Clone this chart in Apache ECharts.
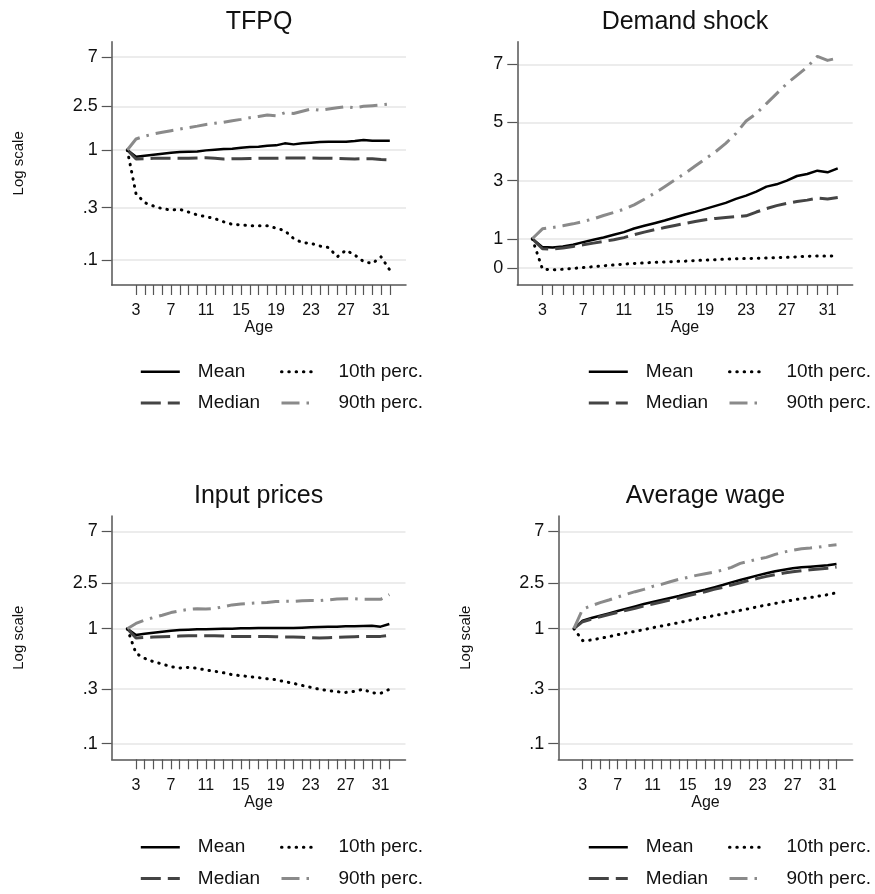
<!DOCTYPE html>
<html><head><meta charset="utf-8">
<script src="https://cdn.jsdelivr.net/npm/echarts@6/dist/echarts.min.js"></script>
<style>html,body{margin:0;padding:0;background:#fff}#c{width:875px;height:894px}</style>
</head><body><div id="c"></div>
<script>
// ---------- data ----------
const ages = [2,3,4,5,6,7,8,9,10,11,12,13,14,15,16,17,18,19,20,21,22,23,24,25,26,27,28,29,30,31,32];
const xTickValues = [3,4,5,6,7,8,9,10,11,12,13,14,15,16,17,18,19,20,21,22,23,24,25,26,27,28,29,30,31,32];
const xLabelValues = [3,7,11,15,19,23,27,31];
const logTickValues = [0.1,0.3,1,2.5,7];
const demandTickValues = [0,1,3,5,7];
const panelTitles = ['TFPQ','Demand shock','Input prices','Average wage'];
const seriesNames = ['Mean','Median','10th perc.','90th perc.'];
const yAxisTitle = 'Log scale';
const xAxisTitle = 'Age';

const tfpqMean   = [1.0,0.87,0.888,0.907,0.926,0.946,0.959,0.966,0.972,0.993,1.007,1.021,1.028,1.05,1.065,1.072,1.095,1.103,1.15,1.126,1.15,1.166,1.182,1.19,1.19,1.19,1.207,1.233,1.216,1.216,1.216];
const tfpqMedian = [1.0,0.83,0.835,0.84,0.842,0.842,0.842,0.84,0.845,0.85,0.84,0.83,0.835,0.835,0.838,0.84,0.84,0.84,0.845,0.845,0.845,0.845,0.843,0.843,0.84,0.835,0.83,0.835,0.835,0.82,0.815];
const tfpqP10    = [1.0,0.40,0.332,0.31,0.293,0.285,0.289,0.273,0.257,0.248,0.238,0.223,0.211,0.209,0.205,0.205,0.205,0.195,0.185,0.157,0.144,0.142,0.134,0.130,0.107,0.123,0.111,0.097,0.093,0.107,0.081];
const tfpqP90    = [1.0,1.26,1.34,1.40,1.45,1.50,1.55,1.60,1.65,1.71,1.75,1.79,1.85,1.90,1.97,2.02,2.08,2.05,2.18,2.15,2.25,2.36,2.30,2.36,2.42,2.48,2.42,2.50,2.53,2.57,2.62];

const demandMean   = [1.0,0.714,0.70,0.737,0.794,0.886,0.966,1.046,1.137,1.229,1.354,1.446,1.537,1.629,1.731,1.834,1.926,2.029,2.131,2.234,2.371,2.486,2.623,2.794,2.874,3.0,3.16,3.229,3.343,3.286,3.423];
const demandMedian = [1.0,0.657,0.646,0.68,0.737,0.794,0.851,0.909,0.966,1.04,1.14,1.23,1.31,1.385,1.46,1.525,1.595,1.655,1.70,1.735,1.76,1.79,1.92,2.04,2.14,2.22,2.28,2.33,2.40,2.37,2.42];
const demandP10    = [1.0,-0.04,-0.07,-0.05,-0.02,0.01,0.04,0.07,0.10,0.13,0.15,0.17,0.19,0.20,0.22,0.23,0.25,0.27,0.28,0.30,0.31,0.32,0.33,0.34,0.35,0.36,0.38,0.40,0.41,0.41,0.40];
const demandP90    = [1.0,1.343,1.389,1.446,1.514,1.594,1.686,1.80,1.903,2.017,2.166,2.36,2.566,2.794,3.023,3.251,3.503,3.75,3.994,4.28,4.623,5.05,5.309,5.651,5.994,6.337,6.623,6.909,7.274,7.137,7.217];

const inputMean   = [1.0,0.881,0.905,0.923,0.942,0.961,0.974,0.98,0.987,0.987,0.993,1.0,1.0,1.007,1.007,1.013,1.013,1.013,1.013,1.013,1.02,1.027,1.034,1.041,1.041,1.048,1.048,1.055,1.062,1.041,1.098];
const inputMedian = [1.0,0.83,0.841,0.846,0.852,0.857,0.863,0.869,0.869,0.869,0.869,0.863,0.857,0.857,0.857,0.857,0.857,0.852,0.846,0.846,0.841,0.835,0.83,0.835,0.841,0.846,0.852,0.857,0.857,0.857,0.875];
const inputP10    = [1.0,0.61,0.552,0.516,0.493,0.467,0.455,0.461,0.452,0.437,0.426,0.414,0.398,0.39,0.383,0.375,0.367,0.36,0.346,0.335,0.321,0.309,0.297,0.289,0.283,0.279,0.285,0.297,0.277,0.274,0.297];
const inputP90    = [1.0,1.11,1.19,1.25,1.31,1.38,1.43,1.47,1.49,1.48,1.50,1.55,1.61,1.64,1.66,1.68,1.69,1.72,1.73,1.73,1.75,1.76,1.75,1.78,1.81,1.82,1.82,1.80,1.80,1.80,1.98];

const wageMean   = [1.0,1.174,1.238,1.297,1.359,1.425,1.493,1.564,1.638,1.706,1.775,1.848,1.923,2.015,2.098,2.183,2.287,2.397,2.529,2.65,2.775,2.909,3.03,3.153,3.26,3.347,3.414,3.46,3.508,3.555,3.649];
const wageMedian = [1.0,1.15,1.21,1.27,1.33,1.387,1.443,1.502,1.574,1.638,1.706,1.775,1.848,1.935,2.015,2.098,2.198,2.287,2.397,2.512,2.632,2.74,2.851,2.95,3.05,3.13,3.19,3.26,3.31,3.36,3.44];
const wageP10    = [1.0,0.787,0.797,0.824,0.852,0.887,0.917,0.948,0.98,1.02,1.055,1.09,1.128,1.174,1.214,1.255,1.297,1.341,1.396,1.443,1.493,1.553,1.606,1.66,1.718,1.775,1.824,1.862,1.923,1.976,2.056];
const wageP90    = [1.0,1.48,1.585,1.683,1.775,1.885,1.99,2.098,2.198,2.334,2.43,2.562,2.685,2.793,2.909,3.006,3.11,3.236,3.414,3.698,3.852,4.036,4.17,4.43,4.64,4.80,4.96,5.03,5.13,5.27,5.375];

// ---------- layout / style ----------
const FONT = '"Liberation Sans", Arial, Helvetica, sans-serif';
const panels = [
  {values:[tfpqMean,tfpqMedian,tfpqP10,tfpqP90], log:true, ticks:logTickValues,
   grid:{left:111.7, top:41.7, width:294.3, height:243.3}, x:[0.22,33.85], y:[0.0593,9.66],
   titleX:259, titleY:22.5, legTop:362.2, leg1:139.3, leg2:280},
  {values:[demandMean,demandMedian,demandP10,demandP90], log:false, ticks:demandTickValues,
   grid:{left:517.3, top:41.7, width:335.4, height:243.3}, x:[0.53,33.47], y:[-0.59,7.78],
   titleX:685, titleY:22.5, legTop:362.2, leg1:587.3, leg2:728},
  {values:[inputMean,inputMedian,inputP10,inputP90], log:true, ticks:logTickValues,
   grid:{left:111.7, top:516, width:293.8, height:243.3}, x:[0.22,33.85], y:[0.0731,9.55],
   titleX:258.6, titleY:496, legTop:837.7, leg1:139.3, leg2:280},
  {values:[wageMean,wageMedian,wageP10,wageP90], log:true, ticks:logTickValues,
   grid:{left:558.3, top:516, width:294.4, height:243.3}, x:[0.22,33.85], y:[0.0731,9.55],
   titleX:705.5, titleY:496, legTop:837.7, leg1:587.3, leg2:728}
];
const lineStyles = [
  {color:'#000000', width:2.5, type:'solid'},
  {color:'#444444', width:3, type:[20,7]},
  {color:'#000000', width:3, type:[0.5,6.8], cap:'round'},
  {color:'#8a8a8a', width:3, type:[18,7,2.5,7]}
];
const axisColor = '#555555';
const textColor = '#111111';

function fmt(v){
  let s = String(+Number(v).toPrecision(4));
  if (s.indexOf('0.') === 0) s = s.slice(1);
  return s;
}

const option = {
  animation:false,
  backgroundColor:'#ffffff',
  textStyle:{fontFamily:FONT},
  grid:[], xAxis:[], yAxis:[], series:[], legend:[], graphic:[]
};

panels.forEach((p, i) => {
  option.grid.push(Object.assign({containLabel:false}, p.grid));
  option.xAxis.push({
    type:'value', gridIndex:i, min:p.x[0], max:p.x[1],
    name:xAxisTitle, nameLocation:'middle', nameGap:35,
    nameTextStyle:{fontSize:16, color:textColor, fontFamily:FONT},
    axisLine:{show:true, onZero:false, lineStyle:{color:axisColor, width:1.5}},
    axisTick:{show:true, inside:false, length:10, customValues:xTickValues, lineStyle:{color:axisColor, width:1.2}},
    axisLabel:{show:true, customValues:xLabelValues, fontSize:16, color:textColor, margin:18, fontFamily:FONT},
    splitLine:{show:false}
  });
  option.yAxis.push({
    type:p.log ? 'log' : 'value', logBase:10, gridIndex:i, min:p.y[0], max:p.y[1],
    name:p.log ? yAxisTitle : '', nameLocation:'middle', nameGap:85,
    nameTextStyle:{fontSize:15, color:textColor, fontFamily:FONT},
    axisLine:{show:true, onZero:false, lineStyle:{color:axisColor, width:1.5}},
    axisTick:{show:true, inside:false, length:10, customValues:p.ticks, lineStyle:{color:axisColor, width:1.2}},
    axisLabel:{show:true, customValues:p.ticks, fontSize:18, color:textColor, margin:14, formatter:fmt, fontFamily:FONT},
    splitLine:{show:true, lineStyle:{color:'#e6e6e6', width:1.5}}
  });
  p.values.forEach((vals, k) => {
    option.series.push({
      type:'line', name:seriesNames[k], xAxisIndex:i, yAxisIndex:i,
      data:ages.map((a, j) => [a, vals[j]]),
      showSymbol:false, symbol:'none', silent:true,
      lineStyle:Object.assign({join:'round'}, lineStyles[k]),
      itemStyle:{color:lineStyles[k].color},
      z:2+k
    });
  });
  const legendBase = {
    orient:'vertical', padding:0, itemGap:12.3, itemHeight:14, selectedMode:false,
    lineStyle:{width:'inherit'},
    itemStyle:{opacity:0, borderWidth:0},
    textStyle:{fontSize:19, color:textColor, fontFamily:FONT},
    top:p.legTop
  };
  option.legend.push(Object.assign({}, legendBase, {
    left:p.leg1, itemWidth:39, data:[seriesNames[0], seriesNames[1]],
    textStyle:Object.assign({}, legendBase.textStyle, {padding:[0,0,0,13]})
  }));
  option.legend.push(Object.assign({}, legendBase, {
    left:p.leg2, itemWidth:33, data:[seriesNames[2], seriesNames[3]],
    textStyle:Object.assign({}, legendBase.textStyle, {padding:[0,0,0,19]})
  }));
  option.graphic.push({
    type:'text', x:p.titleX, y:p.titleY, silent:true,
    style:{text:panelTitles[i], fill:textColor, font:'25px ' + FONT, textAlign:'center', textVerticalAlign:'middle'}
  });
});

const chart = echarts.init(document.getElementById('c'), null, {renderer:'canvas'});
chart.setOption(option);
</script>
</body></html>
